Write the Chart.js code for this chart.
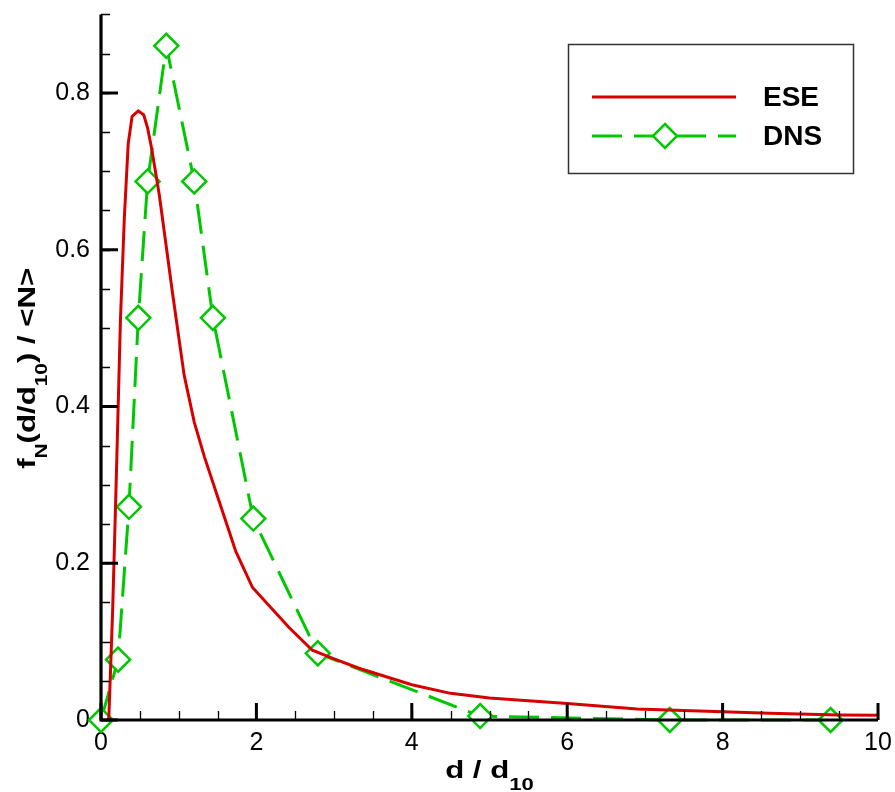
<!DOCTYPE html>
<html>
<head>
<meta charset="utf-8">
<script src="https://cdn.jsdelivr.net/npm/chart.js@4.4.1/dist/chart.umd.min.js"></script>
<style>
  html,body{margin:0;padding:0;background:#fff}
  #wrap{width:895px;height:792px;position:relative}
</style>
</head>
<body>
<div id="wrap"><canvas id="c"></canvas></div>
<script>
// ESE curve
const eseX = [0.10,0.15,0.20,0.25,0.30,0.35,0.40,0.48,0.55,0.60,0.65,0.75,0.92,1.07,1.20,1.33,1.50,1.735,1.95,2.42,2.72,3.00,3.32,4.00,4.50,5.00,6.00,6.90,8.00,8.60,9.50,10.0]
const eseY = [0,0.14,0.32,0.51,0.64,0.735,0.77,0.777,0.772,0.755,0.73,0.67,0.545,0.44,0.38,0.336,0.285,0.215,0.169,0.118,0.089,0.078,0.066,0.045,0.034,0.028,0.021,0.014,0.0105,0.0085,0.0063,0.006]
// DNS markers
const dnsX = [0,0.22,0.36,0.48,0.60,0.84,1.20,1.44,1.96,2.79,4.88,7.32,9.39]
const dnsY = [0,0.077,0.272,0.513,0.687,0.860,0.687,0.513,0.257,0.085,0.005,0,0]
// axes
const xTicks = [0,2,4,6,8,10]
const yTicks = [0,0.2,0.4,0.6,0.8]
const xMinorStep = 0.5, yMinorStep = 0.05
const xMax = 10, yMax = 0.9

const RED = '#d60000', GREEN = '#00c800'
const DASH = [30,12]
const FONT = '"Liberation Sans", Arial, sans-serif'

function pts(xs, ys){ return xs.map((x,i)=>({x, y:ys[i]})) }

function runs(ctx, parts, sx){
  // parts: [text, size, dy]
  let w = 0
  parts.forEach(p=>{ ctx.font = `bold ${p[1]}px ${FONT}`; w += ctx.measureText(p[0]).width*sx })
  let x = -w/2
  parts.forEach(p=>{
    ctx.font = `bold ${p[1]}px ${FONT}`
    ctx.save(); ctx.translate(x, p[2]); ctx.scale(sx,1)
    ctx.fillText(p[0], 0, 0)
    ctx.restore()
    x += ctx.measureText(p[0]).width*sx
  })
}

function diamond(ctx, x, y, r){
  ctx.beginPath()
  ctx.moveTo(x, y-r); ctx.lineTo(x+r, y); ctx.lineTo(x, y+r); ctx.lineTo(x-r, y); ctx.closePath()
  ctx.fillStyle = '#fff'; ctx.fill()
  ctx.strokeStyle = GREEN; ctx.lineWidth = 2.5; ctx.setLineDash([]); ctx.stroke()
}

const frame = {
  id:'frame',
  afterDatasetsDraw(chart){
    const {ctx, chartArea:a, scales:{x, y}} = chart
    ctx.save()
    ctx.strokeStyle = '#000'
    // minor ticks
    ctx.lineWidth = 1.3
    ctx.beginPath()
    for(let v=0; v<=xMax+1e-9; v+=xMinorStep){
      const px = Math.round(x.getPixelForValue(v))+0.5
      ctx.moveTo(px, a.bottom); ctx.lineTo(px, a.bottom-9)
    }
    for(let v=0; v<=yMax+1e-9; v+=yMinorStep){
      const py = Math.round(y.getPixelForValue(v))+0.5
      ctx.moveTo(a.left, py); ctx.lineTo(a.left+9, py)
    }
    ctx.stroke()
    // major ticks
    ctx.lineWidth = 3
    ctx.beginPath()
    xTicks.forEach(v=>{ const px = x.getPixelForValue(v); ctx.moveTo(px, a.bottom); ctx.lineTo(px, a.bottom-17) })
    yTicks.forEach(v=>{ const py = y.getPixelForValue(v); ctx.moveTo(a.left, py); ctx.lineTo(a.left+17, py) })
    ctx.stroke()
    // axis lines
    ctx.lineWidth = 3.2
    ctx.beginPath()
    ctx.moveTo(a.left, a.top); ctx.lineTo(a.left, a.bottom); ctx.lineTo(a.right, a.bottom)
    ctx.stroke()
    ctx.restore()
  },
  afterDraw(chart){
    const {ctx, chartArea:a} = chart
    ctx.save()
    ctx.fillStyle = '#000'
    ctx.textBaseline = 'alphabetic'
    // x title
    ctx.save(); ctx.translate((a.left+a.right)/2, 778)
    runs(ctx, [['d / d',24,0],['10',17,12]], 1.3)
    ctx.restore()
    // y title
    ctx.save(); ctx.translate(35, (a.top+a.bottom)/2+1); ctx.rotate(-Math.PI/2)
    runs(ctx, [['f',24,0],['N',16,12],['(d/d',24,0],['10',16,12],[') / <N>',24,0]], 1.3)
    ctx.restore()
    // legend
    ctx.strokeStyle = '#333'; ctx.lineWidth = 1.5
    ctx.strokeRect(568.5, 44.5, 285, 129)
    ctx.strokeStyle = RED; ctx.lineWidth = 3
    ctx.beginPath(); ctx.moveTo(592, 97); ctx.lineTo(736, 97); ctx.stroke()
    ctx.strokeStyle = GREEN; ctx.lineWidth = 3; ctx.setLineDash(DASH)
    ctx.beginPath(); ctx.moveTo(592, 136); ctx.lineTo(736, 136); ctx.stroke()
    ctx.setLineDash([])
    diamond(ctx, 665, 136, 12)
    ctx.fillStyle = '#000'; ctx.font = `bold 28px ${FONT}`; ctx.textBaseline = 'middle'
    ctx.fillText('ESE', 763, 98)
    ctx.fillText('DNS', 763, 137)
    ctx.restore()
  }
}

new Chart(document.getElementById('c'), {
  type:'line',
  data:{datasets:[
    {label:'ESE', data:pts(eseX, eseY), borderColor:RED, borderWidth:3, pointRadius:0, tension:0, fill:false},
    {label:'DNS', data:pts(dnsX, dnsY), borderColor:GREEN, borderWidth:3, borderDash:DASH, tension:0, clip:false,
     pointStyle:'rectRot', pointRadius:12, pointBorderWidth:2.5, pointBorderColor:GREEN, pointBackgroundColor:'#fff'}
  ]},
  options:{
    responsive:true, maintainAspectRatio:false, animation:false,
    layout:{padding:{left:30, right:17, top:10, bottom:0}},
    plugins:{legend:{display:false}, tooltip:{enabled:false}},
    scales:{
      x:{type:'linear', min:0, max:xMax,
        grid:{display:false, drawTicks:false}, border:{display:false},
        afterBuildTicks:s=>{ s.ticks = xTicks.map(v=>({value:v})) },
        afterFit:s=>{ s.height = 72; s.paddingLeft = 0; s.paddingRight = 0 },
        ticks:{padding:8, color:'#000', font:{family:FONT, size:25}, maxRotation:0, callback:v=>String(v)}},
      y:{type:'linear', min:0, max:yMax,
        grid:{display:false, drawTicks:false}, border:{display:false},
        afterBuildTicks:s=>{ s.ticks = yTicks.map(v=>({value:v})) },
        afterFit:s=>{ s.width = 71; s.paddingTop = 0; s.paddingBottom = 0 },
        ticks:{padding:11, color:'#000', font:{family:FONT, size:25}, callback:v=> v===0 ? '0' : v.toFixed(1)}}
    }
  },
  plugins:[frame]
})
</script>
</body>
</html>
